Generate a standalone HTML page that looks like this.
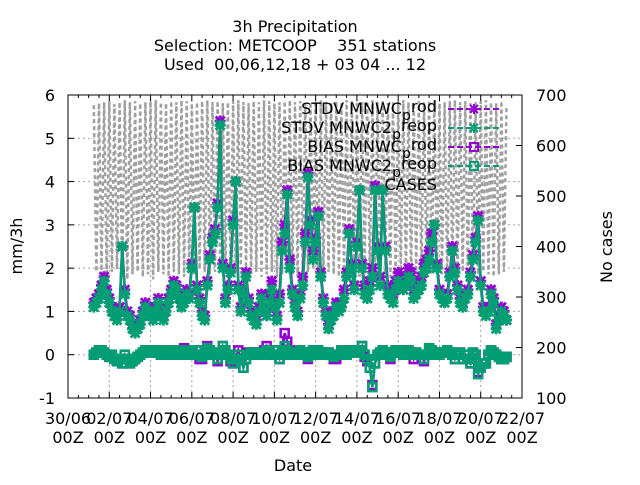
<!DOCTYPE html>
<html><head><meta charset="utf-8"><style>
body{margin:0;background:#fff}
svg text{font-family:"DejaVu Sans","Liberation Sans",sans-serif;fill:#000;white-space:pre}
</style></head><body>
<svg id="chart" width="640" height="480" xmlns="http://www.w3.org/2000/svg">
<g font-size="16" text-anchor="middle">
<text x="295" y="32">3h Precipitation</text>
<text x="295" y="51" xml:space="preserve">Selection: METCOOP    351 stations</text>
<text x="295" y="70" xml:space="preserve">Used  00,06,12,18 + 03 04 ... 12</text>
</g>
<g id="grid"></g>
<g id="cases"></g>
<g id="series"></g>
<rect x="68" y="95" width="454" height="303" fill="none" stroke="#000" stroke-width="1"/>
<g id="axes" font-size="16"></g>
<text x="22" y="246" font-size="16" text-anchor="middle" transform="rotate(-90 22 246)">mm/3h</text>
<text x="612" y="247" font-size="16" text-anchor="middle" transform="rotate(-90 612 247)">No cases</text>
<text x="293" y="471" font-size="16" text-anchor="middle">Date</text>
<g id="legend" font-size="16" text-anchor="end"></g>
</svg>
<script>
const yTicks=[-1,0,1,2,3,4,5,6];
const y2Ticks=[100,200,300,400,500,600,700];
const xTickDays=[0,2,4,6,8,10,12,14,16,18,20,22];
const xTickLabels=["30/06","02/07","04/07","06/07","08/07","10/07","12/07","14/07","16/07","18/07","20/07","22/07"];
const tStart=1.25, tStep=0.125;
const stdv2=[1.1,1.2,1.3,1.5,1.7,1.4,1.2,1.0, 0.9,0.8,1.0,2.5,1.4,0.9,0.8,0.6, 0.5,0.6,0.7,0.9,1.1,1.0,0.9,0.8, 1.0,1.2,0.9,0.8,1.0,1.2,1.4,1.6, 1.5,1.3,1.1,1.2,1.4,1.3,2.0,3.4, 1.5,1.2,0.9,0.8,1.6,2.2,2.6,2.8, 3.4,5.3,2.0,1.2,1.5,1.9,3.0,4.0, 1.5,1.0,1.4,1.8,1.2,0.9,0.8,0.7, 1.0,1.3,1.1,0.9,1.2,1.5,1.1,0.8, 1.2,2.4,2.8,3.7,2.0,1.4,1.1,0.9, 1.3,1.6,2.6,4.1,3.0,2.2,2.6,3.2, 1.8,1.2,0.9,0.6,0.8,0.9,1.1,1.0, 1.1,1.3,1.8,2.8,2.0,1.5,2.5,3.8, 2.0,1.4,1.3,1.5,1.8,3.8,2.4,1.6, 3.8,2.4,1.4,1.3,1.2,1.5,1.7,1.6, 1.5,1.6,1.8,1.7,1.3,1.4,1.5,1.6, 1.9,2.0,2.2,2.6,3.0,2.0,1.4,1.3, 1.2,1.3,1.8,2.4,1.9,1.5,1.2,1.1, 1.3,1.4,1.8,2.2,2.6,3.1,1.6,1.0, 0.9,1.0,1.4,1.2,0.6,0.8,1.0,0.9, 0.8];
const stdv=[1.2,1.3,1.4,1.6,1.8,1.5,1.3,1.1, 1.0,0.9,1.1,2.5,1.5,1.0,0.9,0.7, 0.6,0.7,0.8,1.0,1.2,1.1,1.0,0.9, 1.1,1.3,1.0,0.9,1.1,1.3,1.5,1.7, 1.6,1.4,1.2,1.3,1.5,1.4,2.1,3.4, 1.6,1.3,1.0,0.9,1.7,2.3,2.7,2.9, 3.5,5.4,2.1,1.3,1.6,2.0,3.1,4.0, 1.6,1.1,1.5,1.9,1.3,1.0,0.9,0.8, 1.1,1.4,1.2,1.0,1.4,1.7,1.2,0.9, 1.4,2.6,3.0,3.8,2.2,1.5,1.2,1.0, 1.4,1.8,2.8,4.2,3.1,2.4,2.7,3.3, 1.9,1.3,1.0,0.7,0.9,1.0,1.2,1.1, 1.2,1.5,1.9,2.9,2.1,1.6,2.6,3.8, 2.1,1.6,1.5,1.7,2.0,3.9,2.5,1.8, 3.8,2.5,1.6,1.5,1.4,1.7,1.9,1.8, 1.7,1.8,2.0,1.9,1.5,1.6,1.7,1.8, 2.1,2.2,2.4,2.8,3.0,2.1,1.5,1.4, 1.3,1.4,1.9,2.5,2.0,1.6,1.3,1.2, 1.4,1.5,1.9,2.3,2.7,3.2,1.7,1.1, 1.0,1.1,1.5,1.3,0.7,0.9,1.1,1.0, 0.8];
const bias2=[0.0,0.05,0.1,0.1,0.05,0.0,-0.05,0.0, -0.1,-0.15,-0.1,-0.2,0.0,-0.1,-0.2,-0.15, -0.1,-0.05,0.0,0.05,0.1,0.1,0.05,0.1, 0.1,0.05,0.0,0.05,0.1,0.05,0.0,0.1, 0.05,0.0,0.05,0.1,0.0,0.05,0.1,0.0, 0.1,0.0,-0.05,0.05,0.15,0.1,0.0,0.05, -0.1,0.0,0.2,0.1,0.0,-0.1,-0.2,-0.1, 0.0,-0.1,-0.3,-0.1,0.0,0.05,0.05,0.0, 0.0,0.05,0.0,0.1,0.05,0.0,0.1,0.0, -0.1,0.0,0.2,0.1,0.0,0.05,0.0,0.0, 0.1,0.05,0.0,-0.05,0.05,0.1,0.0,0.1, 0.0,0.05,0.0,0.05,0.0,-0.05,0.0,0.0, 0.1,0.05,0.0,0.05,0.1,0.1,0.05,0.1, 0.2,0.0,-0.1,-0.3,-0.75,-0.2,0.0,0.05, 0.1,0.05,0.0,-0.05,0.05,0.1,0.05,0.1, 0.0,0.05,0.1,0.05,0.0,0.05,0.0,0.0, -0.1,0.0,0.15,0.1,0.05,0.0,0.0,0.05, 0.05,0.1,0.05,0.0,-0.1,0.0,0.05,-0.1, 0.0,-0.1,-0.2,0.05,0.0,-0.45,-0.3,-0.2, -0.2,0.0,0.1,0.05,0.0,-0.05,-0.1,-0.1, -0.05];
const bias=[0.0,0.05,0.1,0.1,0.05,0.0,-0.05,0.0, -0.1,-0.15,-0.1,-0.2,0.0,-0.1,-0.2,-0.15, -0.1,-0.05,0.0,0.05,0.1,0.1,0.05,0.1, 0.1,0.05,0.0,0.05,0.1,0.05,0.0,0.1, 0.05,0.0,0.05,0.15,0.0,0.05,0.1,0.0, 0.1,-0.1,-0.1,0.05,0.2,0.1,0.0,0.05, -0.15,0.0,0.2,0.1,0.0,-0.15,-0.2,-0.1, 0.1,-0.1,-0.3,-0.1,0.05,0.05,0.05,0.0, 0.0,0.05,0.1,0.2,0.05,0.0,0.1,0.0, -0.1,0.1,0.5,0.3,0.1,0.05,0.0,0.0, 0.1,0.05,0.0,-0.1,0.05,0.1,0.0,0.1, 0.0,0.05,0.0,0.05,0.0,-0.1,-0.1,0.0, 0.1,0.05,0.0,0.05,0.1,0.1,0.05,0.1, 0.2,-0.05,-0.15,-0.3,-0.7,-0.2,0.0,0.05, 0.1,0.05,0.0,-0.1,0.05,0.1,0.05,0.1, 0.0,0.05,0.1,0.05,-0.1,0.05,0.0,0.0, -0.15,0.0,0.15,0.1,0.05,0.0,0.0,0.05, 0.05,0.1,0.05,0.0,-0.1,0.0,0.05,-0.1, 0.0,-0.1,-0.2,0.05,0.0,-0.4,-0.3,-0.2, -0.2,0.0,0.1,0.05,0.0,-0.05,-0.1,-0.1, -0.05];
const cases=[680,350,684,345,686,340,688,350,682,355,686,340,690,335,686,345, 688,350,684,340,686,345,688,335,690,350,686,345,684,340,688,350, 686,345,690,340,688,350,684,345,686,355,688,350,690,345,686,350, 688,355,684,350,686,345,688,350,690,355,686,350,684,345,688,350, 686,340,690,345,688,350,684,340,686,345,688,350,690,345,686,340, 688,345,684,350,686,355,688,350,690,345,686,350,684,345,688,340, 686,345,690,350,688,345,684,340,686,350,688,345,690,340,686,350, 688,345,684,340,686,345,688,350,690,345,686,340,684,350,688,345, 686,340,690,345,688,350,684,345,686,340,688,350,690,345,686,350, 688,345,684,340,686,345,688,350,690,345,686,340,684,345,688,350, 680];
const svg=document.getElementById('chart');
const NS='http://www.w3.org/2000/svg';
const X0=68,X1=522,Y0=398,Y1=95;
const xs=d=>X0+(d-0)/22*(X1-X0);
const ys=v=>Y0-(v+1)/7*(Y0-Y1);
const ys2=v=>Y0-(v-100)/600*(Y0-Y1);
const tAt=i=>tStart+i*tStep;
function mk(tag,attrs,parent){const e=document.createElementNS(NS,tag);for(const k in attrs)e.setAttribute(k,attrs[k]);parent.appendChild(e);return e;}
const grid=document.getElementById('grid'),axes=document.getElementById('axes');
yTicks.forEach(v=>{
  const y=ys(v);
  if(v>-1&&v<6){const g=mk('line',{x1:X0,x2:X1,y1:y,y2:y,stroke:'#a0a0a0','stroke-dasharray':'2,3'},grid);
  
  }
  mk('line',{x1:X0,x2:X0+6,y1:y,y2:y,stroke:'#000'},axes);
  const t=mk('text',{x:55,y:y+6,'text-anchor':'end'},axes);t.textContent=v;
  
  
});
y2Ticks.forEach(v=>{
  const y=ys2(v);
  mk('line',{x1:X1-6,x2:X1,y1:y,y2:y,stroke:'#000'},axes);
  const t=mk('text',{x:536,y:y+6,'text-anchor':'start'},axes);t.textContent=v;
  
  
});
for(let d=0;d<=22;d+=0.5){const x=xs(d);const major=(d%2===0);
  mk('line',{x1:x,x2:x,y1:Y0,y2:Y0-(major?6:3),stroke:'#000'},axes);
  mk('line',{x1:x,x2:x,y1:Y1,y2:Y1+(major?6:3),stroke:'#000'},axes);}
xTickDays.forEach((d,i)=>{
  const x=xs(d);
  if(i>0&&i<xTickDays.length-1){const g=mk('line',{x1:x,x2:x,y1:Y1,y2:Y0,stroke:'#a0a0a0','stroke-dasharray':'2,3'},grid);
  
  }
  const t=mk('text',{x:x,y:424,'text-anchor':'middle'},axes);t.textContent=xTickLabels[i];
  
  
  const t2=mk('text',{x:x,y:443,'text-anchor':'middle'},axes);t2.textContent='00Z';
  
  
});
const cg=document.getElementById('cases');
const cstep=(stdv.length-1)*tStep/(cases.length-1);
const cp=cases.map((v,i)=>xs(tStart+i*cstep).toFixed(1)+','+ys2(v).toFixed(1)).join(' ');
const cl=mk('polyline',{points:cp,fill:'none',stroke:'#a0a0a0','stroke-width':2.5,'stroke-dasharray':'4,3'},cg);


const sg=document.getElementById('series');
function draw(arr,color,marker,name){
  const g=mk('g',{},sg);
  
  
  mk('polyline',{points:arr.map((v,i)=>xs(tAt(i)).toFixed(1)+','+ys(v).toFixed(1)).join(' '),fill:'none',stroke:color,'stroke-width':2.5},g);
  arr.forEach((v,i)=>{const x=xs(tAt(i)),y=ys(v);
    if(marker==='sq')mk('rect',{x:x-4,y:y-4,width:8,height:8,fill:'none',stroke:color,'stroke-width':2.5},g);
    else{mk('path',{d:`M${x-4.5},${y-4.5}L${x+4.5},${y+4.5}M${x-4.5},${y+4.5}L${x+4.5},${y-4.5}M${x-5.5},${y}L${x+5.5},${y}M${x},${y-5.5}L${x},${y+5.5}`,stroke:color,'stroke-width':2.8},g);}
  });
}
draw(stdv,'#9400d3','star','stdv-mnwc-prod-series');
draw(bias,'#9400d3','sq','bias-mnwc-prod-series');
draw(stdv2,'#009e73','star','stdv-mnwc2-preop-series');
draw(bias2,'#009e73','sq','bias-mnwc2-preop-series');
const lg=document.getElementById('legend');
const leg=[["STDV MNWC","rod",'#9400d3','star'],["STDV MNWC2","reop",'#009e73','star'],["BIAS MNWC","rod",'#9400d3','sq'],["BIAS MNWC2","reop",'#009e73','sq']];
leg.forEach((l,i)=>{const y=109+i*19;
  const t=mk('text',{x:437,y:y+5},lg);
  
  
  t.innerHTML=l[0]+'<tspan dy="6" font-size="14">p</tspan><tspan dy="-8">'+l[1]+'</tspan>';
  mk('line',{x1:448,x2:500,y1:y,y2:y,stroke:l[2],'stroke-width':2,'stroke-dasharray':'6,3'},lg);
  if(l[3]==='sq')mk('rect',{x:470,y:y-4,width:8,height:8,fill:'none',stroke:l[2],'stroke-width':2},lg);
  else mk('path',{d:`M470,${y-4}L478,${y+4}M470,${y+4}L478,${y-4}M474,${y-5}L474,${y+5}`,stroke:l[2],'stroke-width':2},lg);
});
const ct=mk('text',{x:437,y:190},lg);ct.textContent='CASES';


</script>
</body></html>
